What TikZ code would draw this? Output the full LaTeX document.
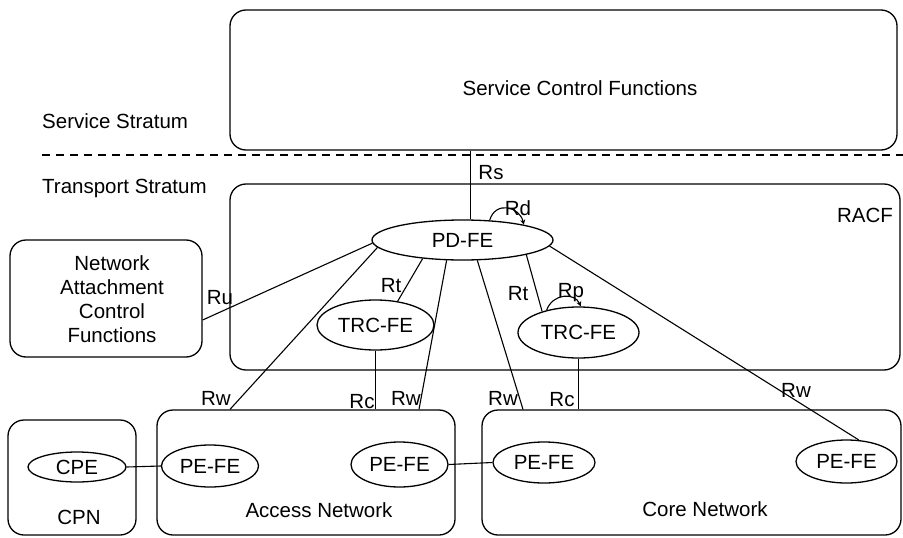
\documentclass[tikz,border=0pt]{standalone}
\usepackage{fontspec}
\setmainfont{Liberation Sans}
\usetikzlibrary{shapes.geometric,arrows.meta}
\begin{document}
\begin{tikzpicture}[x=1pt,y=-1pt,
  every node/.style={font=\fontsize{20.5}{24}\selectfont},
  box/.style={draw,rounded corners=16pt,line width=1.3pt,inner sep=0pt},
  fe/.style={draw,ellipse,line width=1.3pt,inner sep=0pt},
  lbl/.style={inner sep=0pt,text depth=0pt},
  link/.style={line width=1.1pt},
  selfloop/.style={line width=1.1pt,-{Stealth[length=5pt,width=5pt]}}
]
\useasboundingbox (0,0) rectangle (903,538);

% stratum separator and stratum names
\coordinate (sepL) at (42,155);
\coordinate (sepR) at (903,155);
\draw[line width=2pt,dash pattern=on 8pt off 6pt] (sepL) -- (sepR);
\node[lbl,anchor=west] (svcstr) at (42,121.5) {Service Stratum};
\node[lbl,anchor=west] (trstr) at (42,186.5) {Transport Stratum};

% functional blocks
\node[box,minimum width=667pt,minimum height=140pt] (scf) at (563.5,80) {};
\node[lbl] (scftxt) at (580,88) {Service Control Functions};
\node[box,minimum width=670pt,minimum height=186pt] (racf) at (565,277) {};
\node[lbl] (racftxt) at (865,215.5) {RACF};
\node[box,minimum width=192pt,minimum height=117pt] (nacf) at (106,298.5) {};
\node[lbl,align=center] (nacftxt) at (112,299) {Network\\Attachment\\Control\\Functions};
\node[box,minimum width=128pt,minimum height=115pt] (cpn) at (72,477.5) {};
\node[lbl] (cpntxt) at (79,517) {CPN};
\node[box,minimum width=298pt,minimum height=125pt] (access) at (306,472.5) {};
\node[lbl] (accesstxt) at (319,510.5) {Access Network};
\node[box,minimum width=419pt,minimum height=125pt] (core) at (691.5,472.5) {};
\node[lbl] (coretxt) at (705,509.5) {Core Network};

% functional entities
\node[fe,minimum width=181pt,minimum height=40pt] (pdfe) at (462.5,240) {PD-FE};
\node[fe,minimum width=117pt,minimum height=50pt] (trc1) at (375.5,325) {TRC-FE};
\node[fe,minimum width=121pt,minimum height=51pt] (trc2) at (578.5,332.5) {TRC-FE};
\node[fe,minimum width=98pt,minimum height=30pt] (cpe) at (77,467) {CPE};
\node[fe,minimum width=97pt,minimum height=42pt] (pe1) at (210,466) {PE-FE};
\node[fe,minimum width=97pt,minimum height=45pt] (pe2) at (399.5,464.5) {PE-FE};
\node[fe,minimum width=102pt,minimum height=41pt] (pe3) at (544,462.5) {PE-FE};
\node[fe,minimum width=101pt,minimum height=43pt] (pe4) at (846.5,461.5) {PE-FE};

% reference points on box borders
\coordinate (rsx) at (470.5,0);
\coordinate (ruy) at (0,320);
\coordinate (rw1) at (230,0);
\coordinate (rw2) at (419,0);
\coordinate (rw3) at (523,0);

% reference points
\draw[link] (scf.south -| rsx) -- (pdfe.north -| rsx);
\draw[link] (nacf.east |- ruy) -- (pdfe.182);
\draw[link] (pdfe.185) -- (access.north -| rw1);
\draw[link] (pdfe.232) -- (access.north -| rw2);
\draw[link] (pdfe.306) -- (core.north -| rw3);
\draw[link] (pdfe.-4) -- (pe4.60);
\draw[link] (pdfe.205) -- (trc1.47);
\draw[link] (pdfe.347) -- (trc2.150);
\draw[link] (trc1.south) -- (trc1.south |- access.north);
\draw[link] (trc2.south) -- (trc2.south |- core.north);
\draw[link] (cpe.east) -- (pe1.west);
\draw[link] (pe2.east) -- (pe3.west);
\draw[selfloop] (pdfe.36) .. controls +(6,-20) and +(-4,-18) .. (pdfe.14);
\draw[selfloop] (trc2.145) .. controls +(6,-17) and +(-6,-14) .. (trc2.85);

% reference point names
\node[lbl] (lrs) at (491,172) {Rs};
\node[lbl] (lrd) at (518,208) {Rd};
\node[lbl] (lru) at (220,297) {Ru};
\node[lbl] (lrt1) at (391,285) {Rt};
\node[lbl] (lrt2) at (518,293) {Rt};
\node[lbl] (lrp) at (571,290) {Rp};
\node[lbl] (lrw1) at (216,398) {Rw};
\node[lbl] (lrc1) at (362,401) {Rc};
\node[lbl] (lrw2) at (406,398) {Rw};
\node[lbl] (lrw3) at (503,398) {Rw};
\node[lbl] (lrc2) at (562,399) {Rc};
\node[lbl] (lrw4) at (796,390) {Rw};
\end{tikzpicture}
\end{document}
